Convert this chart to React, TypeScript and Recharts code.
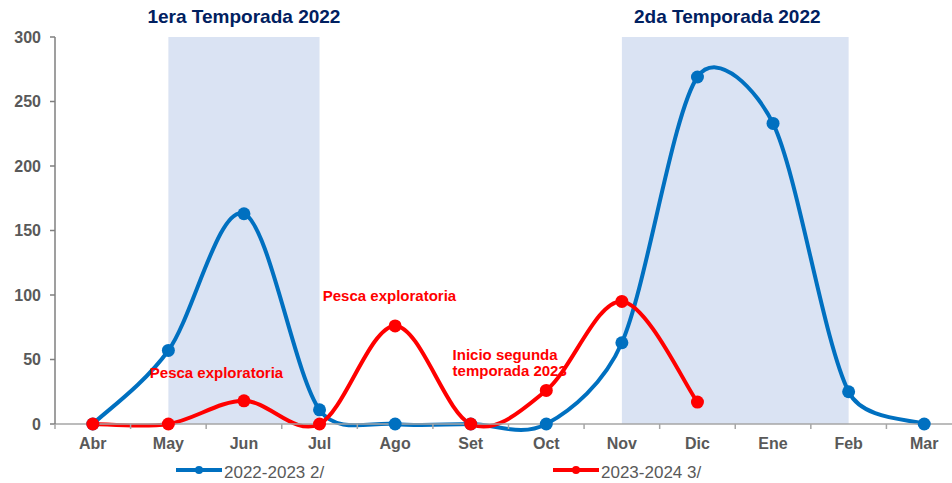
import React from 'react';
import {
  LineChart,
  Line,
  XAxis,
  YAxis,
  ReferenceArea,
  ReferenceDot,
  Legend,
} from 'recharts';

const months = ['Abr', 'May', 'Jun', 'Jul', 'Ago', 'Set', 'Oct', 'Nov', 'Dic', 'Ene', 'Feb', 'Mar'];
const season2223: (number | null)[] = [0, 57, 163, 11, 0, 0, 0, 63, 269, 233, 25, 0];
const season2324: (number | null)[] = [0, 0, 18, 0, 76, 0, 26, 95, 17, null, null, null];
const yTicks = [0, 50, 100, 150, 200, 250, 300];
const xTicks = [-0.5, 0, 0.5, 1, 1.5, 2, 2.5, 3, 3.5, 4, 4.5, 5, 5.5, 6, 6.5, 7, 7.5, 8, 8.5, 9, 9.5, 10, 10.5, 11, 11.5];

const seriesNames = ['2022-2023 2/', '2023-2024 3/'];
const BLUE = '#0070C0';
const RED = '#FF0000';
const SHADE = '#DAE3F3';
const NAVY = '#002060';
const GRAY = '#595959';
const FONT = '"Liberation Sans", Arial, sans-serif';

const data = months.map((m, i) => ({ idx: i, month: m, a: season2223[i], b: season2324[i] }));

// Excel-like smoothed line: Catmull-Rom tangents, clamped on short segments
const TENSION = 1 / 6;
const CLAMP = 0.4;
function excelCurve(context: any) {
  let pts: [number, number][] = [];
  const clampVec = (vx: number, vy: number, max: number): [number, number] => {
    const len = Math.hypot(vx, vy);
    if (len > max && len > 0) return [(vx * max) / len, (vy * max) / len];
    return [vx, vy];
  };
  return {
    areaStart() {},
    areaEnd() {},
    lineStart() {
      pts = [];
    },
    point(x: number, y: number) {
      pts.push([+x, +y]);
    },
    lineEnd() {
      const n = pts.length;
      if (!n) return;
      context.moveTo(pts[0][0], pts[0][1]);
      if (n === 1) return;
      for (let i = 0; i < n - 1; i++) {
        const p0 = pts[i - 1] || pts[i];
        const p1 = pts[i];
        const p2 = pts[i + 1];
        const p3 = pts[i + 2] || pts[i + 1];
        const maxLen = CLAMP * Math.hypot(p2[0] - p1[0], p2[1] - p1[1]);
        const v1 = clampVec((p2[0] - p0[0]) * TENSION, (p2[1] - p0[1]) * TENSION, maxLen);
        const v2 = clampVec((p3[0] - p1[0]) * TENSION, (p3[1] - p1[1]) * TENSION, maxLen);
        context.bezierCurveTo(p1[0] + v1[0], p1[1] + v1[1], p2[0] - v2[0], p2[1] - v2[1], p2[0], p2[1]);
      }
    },
  };
}

const XTick = (props: any) => {
  const { x, y, payload } = props;
  const v = payload.value;
  if (Number.isInteger(v)) {
    return (
      <text x={x} y={y + 14} dy="0.71em" textAnchor="middle" fill={GRAY} fontSize={16} fontWeight="bold" fontFamily={FONT}>
        {months[v]}
      </text>
    );
  }
  return <line x1={x} x2={x} y1={y} y2={y + 5} stroke="#A6A6A6" strokeWidth={1.5} />;
};

const TitleLabel = (props: any) => {
  const { viewBox, text, shift = 0 } = props;
  if (!viewBox) return null;
  return (
    <text
      x={viewBox.x + viewBox.width / 2 + shift}
      y={viewBox.y - 14}
      textAnchor="middle"
      fill={NAVY}
      fontSize={19}
      fontWeight="bold"
      fontFamily={FONT}
    >
      {text}
    </text>
  );
};

const NoteLabel = (props: any) => {
  const { viewBox, lines, anchor = 'middle' } = props;
  if (!viewBox) return null;
  const cx = viewBox.x + viewBox.width / 2;
  const cy = viewBox.y + viewBox.height / 2;
  return (
    <text x={cx} y={cy} textAnchor={anchor} fill={RED} fontSize={15} fontWeight="bold" fontFamily={FONT}>
      {lines.map((l: string, i: number) => (
        <tspan key={i} x={cx} dy={i === 0 ? 0 : 16}>
          {l}
        </tspan>
      ))}
    </text>
  );
};

const LegendContent = () => {
  const item = (left: number, color: string, name: string) => (
    <div key={name}>
      <svg width={46} height={10} style={{ position: 'absolute', left, top: 12 }}>
        <line x1={0} x2={46} y1={5} y2={5} stroke={color} strokeWidth={4} />
        <circle cx={23} cy={5} r={4} fill={color} />
      </svg>
      <div
        style={{
          position: 'absolute',
          left: left + 48,
          top: 10,
          fontSize: 17,
          lineHeight: '20px',
          color: GRAY,
          fontFamily: FONT,
          whiteSpace: 'nowrap',
        }}
      >
        {name}
      </div>
    </div>
  );
  return (
    <div style={{ position: 'relative', height: 25, width: '100%' }}>
      {item(176, BLUE, seriesNames[0])}
      {item(553, RED, seriesNames[1])}
    </div>
  );
};

export default function App() {
  return (
    <div style={{ position: 'absolute', left: 0, top: 0, width: 952, height: 483, overflow: 'hidden', background: '#fff' }}>
      <LineChart width={1000} height={483} data={data} margin={{ top: 37, right: 38, left: 0, bottom: 5 }}>
        <ReferenceArea
          x1={1}
          x2={3}
          y1={0}
          y2={300}
          fill={SHADE}
          fillOpacity={1}
          stroke="none"
          ifOverflow="visible"
          label={<TitleLabel text="1era Temporada 2022" />}
        />
        <ReferenceArea
          x1={7}
          x2={10}
          y1={0}
          y2={300}
          fill={SHADE}
          fillOpacity={1}
          stroke="none"
          ifOverflow="visible"
          label={<TitleLabel text="2da Temporada 2022" shift={-8} />}
        />
        <XAxis
          type="number"
          dataKey="idx"
          domain={[-0.5, 11.5]}
          ticks={xTicks}
          interval={0}
          tickSize={0}
          tickMargin={0}
          tickLine={false}
          tick={<XTick />}
          axisLine={{ stroke: '#A6A6A6', strokeWidth: 1.5 }}
          height={29}
        />
        <YAxis
          type="number"
          domain={[0, 300]}
          ticks={yTicks}
          interval={0}
          width={55}
          tickSize={5}
          tickMargin={9}
          axisLine={{ stroke: '#7F7F7F', strokeWidth: 1.5 }}
          tickLine={{ stroke: '#7F7F7F', strokeWidth: 1.5 }}
          tick={{ fill: GRAY, fontSize: 16, fontWeight: 'bold', fontFamily: FONT }}
        />
        <Legend verticalAlign="bottom" height={25} content={<LegendContent />} />
        <Line
          dataKey="a"
          name={seriesNames[0]}
          type={excelCurve as any}
          stroke={BLUE}
          strokeWidth={4}
          dot={{ r: 6.5, fill: BLUE, stroke: BLUE, strokeWidth: 0 }}
          activeDot={false}
          isAnimationActive={false}
        />
        <Line
          dataKey="b"
          name={seriesNames[1]}
          type={excelCurve as any}
          stroke={RED}
          strokeWidth={4}
          dot={{ r: 6.5, fill: RED, stroke: RED, strokeWidth: 0 }}
          activeDot={false}
          isAnimationActive={false}
        />
        <ReferenceDot x={1.637} y={36} r={1} fill="none" stroke="none" ifOverflow="visible" label={<NoteLabel lines={['Pesca exploratoria']} />} />
        <ReferenceDot x={3.925} y={95.6} r={1} fill="none" stroke="none" ifOverflow="visible" label={<NoteLabel lines={['Pesca exploratoria']} />} />
        <ReferenceDot
          x={4.76}
          y={50}
          r={1}
          fill="none"
          stroke="none"
          ifOverflow="visible"
          label={<NoteLabel lines={['Inicio segunda', 'temporada 2023']} anchor="start" />}
        />
      </LineChart>
    </div>
  );
}
